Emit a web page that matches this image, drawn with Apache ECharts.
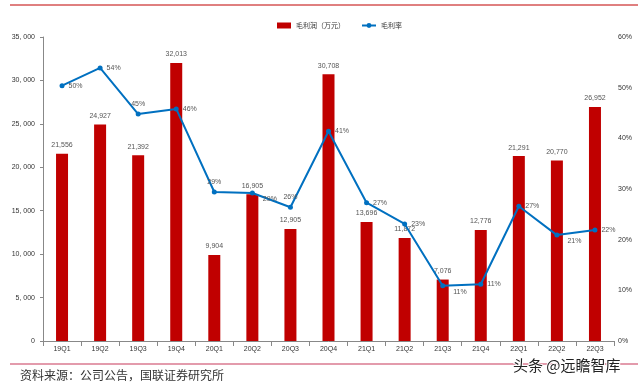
<!DOCTYPE html>
<html><head><meta charset="utf-8">
<script src="https://cdn.jsdelivr.net/npm/echarts@6/dist/echarts.min.js"></script>
<style>html,body{margin:0;padding:0;background:#fff}#c{width:640px;height:385px}</style>
</head><body><div id="c"></div>
<script>
const categories = ['19Q1','19Q2','19Q3','19Q4','20Q1','20Q2','20Q3','20Q4','21Q1','21Q2','21Q3','21Q4','22Q1','22Q2','22Q3'];
const grossProfit = [21556,24927,21392,32013,9904,16905,12905,30708,13696,11872,7076,12776,21291,20770,26952];
const grossMargin = [50.4,53.9,44.8,45.8,29.4,29.2,26.4,41.4,27.3,23.1,10.9,11.2,26.6,20.9,21.9];
const leftTicks = [0,5000,10000,15000,20000,25000,30000,35000];
const rightTicks = [0,10,20,30,40,50,60];
const marginLabelPos = ['right','right','top','right','top','br','top','right','right','right','br','right','right','br','right'];

const chart = echarts.init(document.getElementById('c'));
const fmt = v => v.toLocaleString('en-US');
chart.setOption({
  animation:false,
  textStyle:{fontFamily:'Liberation Sans, DejaVu Sans, sans-serif'},
  graphic:[
    {type:'line',shape:{x1:10,y1:5,x2:638,y2:5},style:{stroke:'#C00000',lineWidth:1}},
    {type:'line',shape:{x1:10,y1:364,x2:638,y2:364},style:{stroke:'#C8385A',lineWidth:1.2}},
    {type:'text',left:20,top:369,style:{text:'资料来源：公司公告，国联证券研究所',font:'12px "Noto Sans CJK SC"',fill:'#333'}},
    {type:'text',left:512,top:357,style:{text:'头条 @远瞻智库',font:'15px "Noto Sans CJK SC"',fill:'#222',stroke:'#fff',lineWidth:2}}
  ],
  legend:{top:17,left:272,itemGap:16,itemWidth:14,itemHeight:6,textStyle:{fontSize:7,color:'#333',fontFamily:'Noto Sans CJK SC'},
    data:[{name:'毛利润（万元）',icon:'rect'},{name:'毛利率'}]},
  grid:{left:43,right:26,top:37,bottom:44},
  xAxis:{type:'category',data:categories,
    axisLine:{lineStyle:{color:'#888'}},axisTick:{show:true,lineStyle:{color:'#888'}},
    axisLabel:{fontSize:7,color:'#333',margin:5}},
  yAxis:[
    {type:'value',min:0,max:35000,interval:5000,splitLine:{show:false},
     axisLine:{show:true,lineStyle:{color:'#888'}},axisTick:{show:true,length:3,lineStyle:{color:'#888'}},
     axisLabel:{fontSize:7,color:'#333',formatter:v=>v===0?'0':Math.floor(v/1000)+', 000'}},
    {type:'value',min:0,max:60,interval:10,splitLine:{show:false},position:'right',offset:0,
     axisLine:{show:false},axisTick:{show:false},
     axisLabel:{fontSize:7,color:'#333',margin:4,formatter:v=>v+'%'}}
  ],
  series:[
    {name:'毛利润（万元）',type:'bar',data:grossProfit,barWidth:12,itemStyle:{color:'#C00000'},
     label:{show:true,position:'top',fontSize:7,color:'#555',formatter:p=>fmt(p.value)}},
    {name:'毛利率',type:'line',yAxisIndex:1,symbol:'circle',symbolSize:5,z:5,
     lineStyle:{color:'#0070C0',width:2},itemStyle:{color:'#0070C0'},
     data:grossMargin.map((v,i)=>{
       const p = marginLabelPos[i];
       return p==='br' ? {value:v,label:{position:'right',offset:[4,6]}} : {value:v,label:{position:p}};
     }),
     label:{show:true,fontSize:7,color:'#555',distance:4,formatter:p=>Math.round(p.value)+'%'}}
  ]
});
</script></body></html>
